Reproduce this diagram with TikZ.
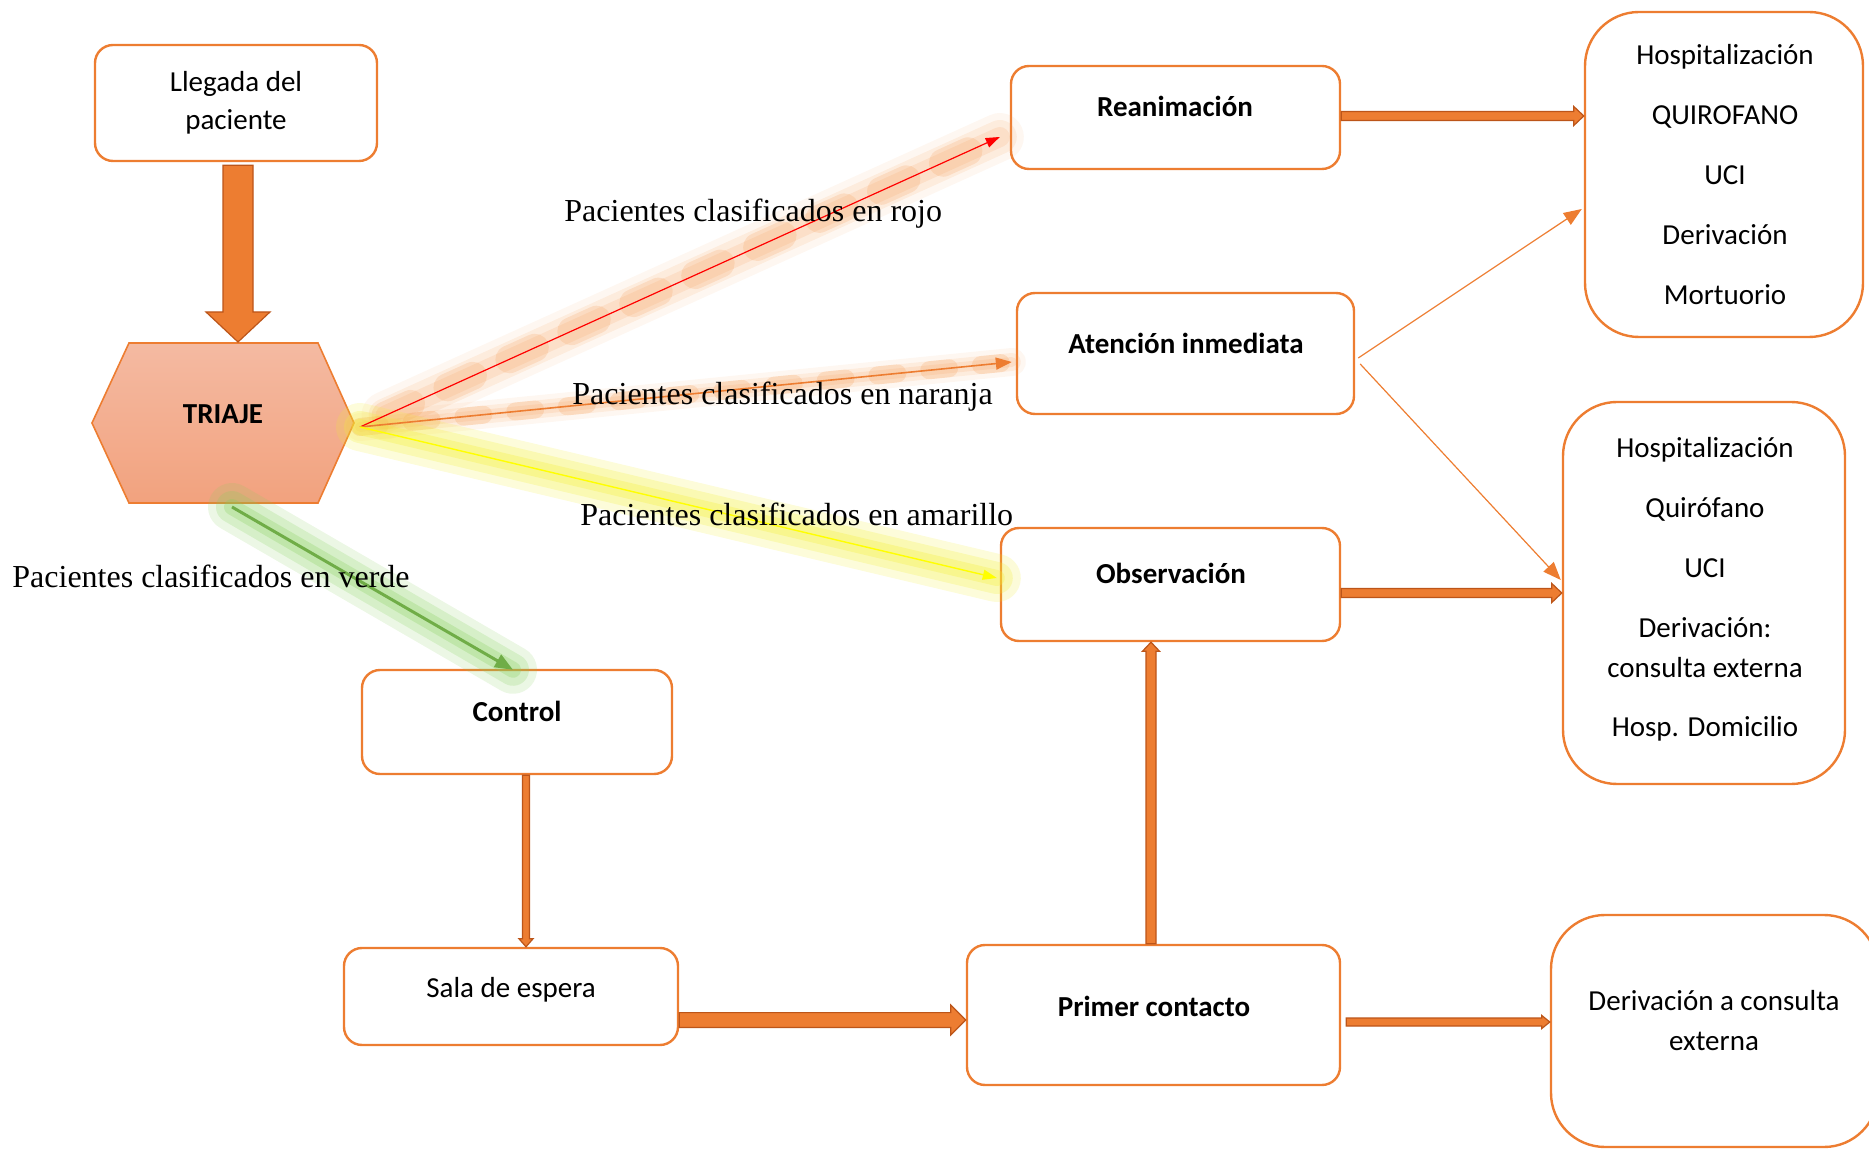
\documentclass[tikz,border=0pt]{standalone}
\usepackage{fontspec}
\setmainfont{Liberation Serif}
\newfontfamily\calfont{Carlito}
\usetikzlibrary{arrows.meta,calc}
\definecolor{org}{HTML}{ED7D31}
\definecolor{dorg}{HTML}{BC5519}
\definecolor{hexTop}{HTML}{F4BAA2}
\definecolor{hexBot}{HTML}{F2A27E}
\definecolor{glowO}{HTML}{F59A50}
\definecolor{glowY}{HTML}{F2EE30}
\definecolor{glowG}{HTML}{86D05C}
\definecolor{grn}{HTML}{70AD47}
\definecolor{ylw}{HTML}{FFFF00}
\newcommand{\hblk}[5]{\draw[blk] let \p1=(#1), \p2=(#2) in (\x1,\y1+#3) -- (\x2-#5,\y1+#3) -- (\x2-#5,\y1+#4) -- (\x2,\y1) -- (\x2-#5,\y1-#4) -- (\x2-#5,\y1-#3) -- (\x1,\y1-#3) -- cycle;}
\newcommand{\dblk}[5]{\draw[blk] let \p1=(#1), \p2=(#2) in (\x1-#3,\y1) -- (\x1-#3,\y2+#5) -- (\x1-#4,\y2+#5) -- (\x1,\y2) -- (\x1+#4,\y2+#5) -- (\x1+#3,\y2+#5) -- (\x1+#3,\y1) -- cycle;}
\newcommand{\ublk}[5]{\draw[blk] let \p1=(#1), \p2=(#2) in (\x1-#3,\y1) -- (\x1-#3,\y2-#5) -- (\x1-#4,\y2-#5) -- (\x1,\y2) -- (\x1+#4,\y2-#5) -- (\x1+#3,\y2-#5) -- (\x1+#3,\y1) -- cycle;}
\begin{document}
\begin{tikzpicture}[x=0.5pt,y=-0.5pt,
 box/.style={draw=org, line width=1.2pt, rounded corners=9pt, fill=white, inner sep=0pt},
 bigbox/.style={box, rounded corners=27pt},
 txt/.style={font=\calfont\fontsize{14.5}{19}\selectfont, align=center, inner sep=0pt},
 btxt/.style={font=\calfont\bfseries\fontsize{14.5}{19}\selectfont, align=center, inner sep=0pt, anchor=base},
 lab/.style={font=\fontsize{16}{19}\selectfont, anchor=base west, inner sep=0pt},
 blk/.style={fill=org, draw=dorg, line width=0.6pt, line join=miter},
 thinarr/.style={draw=org, line width=0.6pt, -{Triangle[length=9pt,width=7pt]}},
 glw/.style={line cap=round},
]
\useasboundingbox (0,0) rectangle (1869,1149);

% boxes
\node[box, minimum width=141pt, minimum height=58pt] (lleg) at (236,103) {};
\node[box, minimum width=164.5pt, minimum height=51.5pt] (rean) at (1175.5,117.5) {};
\node[box, minimum width=168.5pt, minimum height=60.5pt] (aten) at (1185.5,353.5) {};
\node[box, minimum width=169.5pt, minimum height=56.5pt] (obs) at (1170.5,584.5) {};
\node[box, minimum width=155pt, minimum height=52pt] (ctrl) at (517,722) {};
\node[box, minimum width=167pt, minimum height=48.5pt] (sala) at (511,996.5) {};
\node[box, minimum width=186.5pt, minimum height=70pt] (prim) at (1153.5,1015) {};
\node[bigbox, minimum width=139pt, minimum height=162.5pt] (b1) at (1724,174.5) {};
\node[bigbox, minimum width=141pt, minimum height=191pt] (b2) at (1704,593) {};
\node[bigbox, minimum width=163.5pt, minimum height=116pt] (b3) at (1714.5,1031) {};

% hexagon
\path[draw=org, line width=0.8pt, top color=hexTop, bottom color=hexBot]
  (92,423) -- (129,343) -- (318,343) -- (354,423) -- (318,503) -- (129,503) -- cycle;
\coordinate (triR) at (360,427);
\coordinate (triS) at (232,507);
\coordinate (triN) at (238,342);

% box texts
\node[txt] (llegt) at (236,103) {Llegada del\\paciente};
\node[btxt] (reant) at (1175,117) {Reanimación};
\node[btxt] (atent) at (1186,354) {Atención inmediata};
\node[btxt] (obst) at (1171,584) {Observación};
\node[btxt] (ctrlt) at (517,721) {Control};
\node[txt, anchor=base] (salat) at (511,997) {Sala de espera};
\node[btxt] (primt) at (1154,1016) {Primer contacto};
\node[btxt] (triaje) at (223,424) {TRIAJE};
\node[txt] (b1t) at (1725,175) {Hospitalización\\[11pt]QUIROFANO\\[11pt]UCI\\[11pt]Derivación\\[11pt]Mortuorio};
\node[txt] (b2t) at (1705,589) {Hospitalización\\[11pt]Quirófano\\[11pt]UCI\\[11pt]Derivación:\\[1pt]consulta externa\\[10.5pt]Hosp. Domicilio};
\node[txt] (b3t) at (1714,1021) {Derivación a consulta\\[1pt]externa};

% block arrows
\dblk{$(lleg.south)+(2,3)$}{triN}{7.5pt}{16pt}{15pt}
\dblk{$(ctrl.south)+(9,0)$}{sala.north}{1.75pt}{3.5pt}{4pt}
\ublk{$(prim.north)+(-2.5,0)$}{obs.south}{2.5pt}{4.25pt}{4.5pt}
\hblk{$(sala.east)+(0,23.5)$}{prim.west}{3.7pt}{7.5pt}{7.5pt}
\hblk{$(rean.east)+(0,-1.5)$}{b1.west}{2.25pt}{4.75pt}{5pt}
\hblk{$(obs.east)+(0,8.5)$}{b2.west}{2.25pt}{4.75pt}{5pt}
\hblk{$(prim.east)+(5,7)$}{b3.west}{2pt}{3.25pt}{4pt}

% thin orange connectors
\draw[thinarr] ($(aten.east)+(3,4.5)$) -- ($(b1.west)+(-2,34.5)$);
\draw[thinarr] ($(aten.east)+(5,10.5)$) -- ($(b2.west)+(-1,-13)$);

% glow endpoints
\coordinate (redE) at ($(rean.west)+(-10,19.5)$);
\coordinate (oraE) at ($(aten.west)+(-4,8.5)$);
\coordinate (yelE) at ($(obs.west)+(-3,-6.5)$);
\coordinate (grnE) at ($(ctrl.north)+(-4,1)$);

% glows
\foreach \w/\o in {24/0.08, 17/0.12, 10/0.15}
  \draw[glw, line width=\w pt, opacity=\o, glowO, shorten <=14pt] (triR) -- (redE);
\draw[glw, line width=14pt, opacity=0.2, glowO, dash pattern=on 14pt off 20pt, shorten <=14pt] (triR) -- (redE);
\foreach \w/\o in {14/0.08, 9/0.12, 5/0.15}
  \draw[glw, line width=\w pt, opacity=\o, glowO] (triR) -- (oraE);
\draw[glw, line width=9pt, opacity=0.22, glowO, dash pattern=on 10pt off 16pt] (triR) -- (oraE);
\foreach \w/\o in {24/0.18, 16/0.23, 8/0.28}
  \draw[glw, line width=\w pt, opacity=\o, glowY] (triR) -- (yelE);
\foreach \w/\o in {24/0.16, 16/0.21, 8/0.28}
  \draw[glw, line width=\w pt, opacity=\o, glowG] (triS) -- (grnE);

% colored arrows
\draw[draw=red, line width=0.6pt, -{Triangle[length=7pt,width=5pt]}] (triR) -- (redE);
\draw[draw=org, line width=0.8pt, -{Triangle[length=8pt,width=6pt]}] (triR) -- (oraE);
\draw[draw=ylw, line width=0.7pt, -{Triangle[length=7pt,width=5pt]}] (triR) -- (yelE);
\draw[draw=grn, line width=1.5pt, -{Triangle[length=9pt,width=7pt]}] (triS) -- (grnE);

% labels
\node[lab] (lrojo) at (564,222) {Pacientes clasificados en rojo};
\node[lab] (lnar) at (572,405) {Pacientes clasificados en naranja};
\node[lab] (lama) at (580,526) {Pacientes clasificados en amarillo};
\node[lab] (lver) at (12,588) {Pacientes clasificados en verde};
\end{tikzpicture}
\end{document}
